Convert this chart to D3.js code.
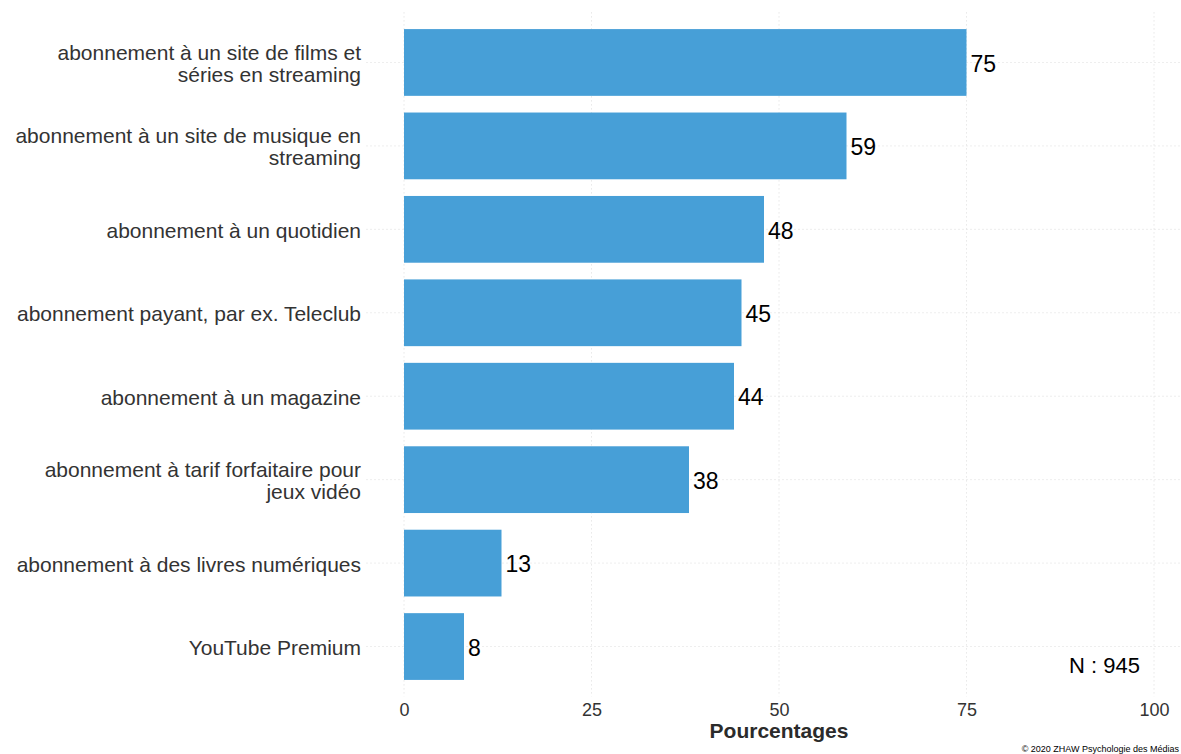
<!DOCTYPE html>
<html>
<head>
<meta charset="utf-8">
<script src="https://cdn.jsdelivr.net/npm/d3@7/dist/d3.min.js"></script>
<style>
  html, body { margin: 0; padding: 0; background: #ffffff; }
  svg { display: block; font-family: "Liberation Sans", Arial, sans-serif; }
</style>
</head>
<body>
<svg id="chart" width="1181" height="754"></svg>
<script>
// Subscription categories (top to bottom) with their share in percent
const categories = [
  ["abonnement à un site de films et", "séries en streaming"],
  ["abonnement à un site de musique en", "streaming"],
  ["abonnement à un quotidien"],
  ["abonnement payant, par ex. Teleclub"],
  ["abonnement à un magazine"],
  ["abonnement à tarif forfaitaire pour", "jeux vidéo"],
  ["abonnement à des livres numériques"],
  ["YouTube Premium"]
];
const values = [75, 59, 48, 45, 44, 38, 13, 8];
const xTicks = [0, 25, 50, 75, 100];
const xTitle = "Pourcentages";
const sampleNote = "N : 945";
const credit = "© 2020 ZHAW Psychologie des Médias";

const svg = d3.select("#chart");

const panel = { left: 366.5, right: 1191.5, top: 12.4, bottom: 696.6 };

const x = d3.scaleLinear()
  .domain([-5, 105])
  .range([panel.left, panel.right]);

const keys = categories.map((c, i) => i);
// discrete axis padded by 0.6 of a step on each side, bars 0.8 of a step
const step = (panel.bottom - panel.top) / (keys.length - 1 + 1.2);
const y = d3.scalePoint()
  .domain(keys)
  .range([panel.top + 0.6 * step, panel.bottom - 0.6 * step]);
const barH = 0.8 * step;

const grid = svg.append("g").attr("class", "grid");
grid.selectAll("line.v")
  .data(xTicks)
  .join("line")
  .attr("class", "v")
  .attr("x1", d => x(d)).attr("x2", d => x(d))
  .attr("y1", panel.top).attr("y2", panel.bottom)
  .attr("stroke", "#dcdcdc").attr("stroke-width", 1)
  .attr("stroke-dasharray", "1,3");
grid.selectAll("line.h")
  .data(keys)
  .join("line")
  .attr("class", "h")
  .attr("x1", panel.left).attr("x2", panel.right)
  .attr("y1", d => y(d)).attr("y2", d => y(d))
  .attr("stroke", "#dcdcdc").attr("stroke-width", 1)
  .attr("stroke-dasharray", "1,3");

// bars
svg.append("g")
  .selectAll("rect")
  .data(values)
  .join("rect")
  .attr("x", x(0))
  .attr("y", (d, i) => y(i) - barH / 2)
  .attr("width", d => x(d) - x(0))
  .attr("height", barH)
  .attr("fill", "#479fd7");

// value labels
svg.append("g")
  .selectAll("text")
  .data(values)
  .join("text")
  .attr("x", d => x(d) + 4)
  .attr("y", (d, i) => y(i) + 1)
  .attr("dy", "0.36em")
  .attr("font-size", 23)
  .attr("fill", "#000")
  .text(d => d);

// category labels (wrapped)
const lineH = 22;
const cat = svg.append("g")
  .selectAll("text")
  .data(categories)
  .join("text")
  .attr("text-anchor", "end")
  .attr("font-size", 21)
  .attr("fill", "#333333")
  .attr("x", 361)
  .attr("y", (d, i) => y(i) + 1 - (d.length - 1) * lineH / 2);
cat.selectAll("tspan")
  .data(d => d)
  .join("tspan")
  .attr("x", 361)
  .attr("dy", (d, j) => j === 0 ? "0.36em" : lineH)
  .text(d => d);

// x axis tick labels
const axis = d3.axisBottom(x).tickValues(xTicks).tickSize(0).tickPadding(0);
const ax = svg.append("g")
  .attr("transform", `translate(0, ${panel.bottom + 19})`)
  .call(axis);
ax.select(".domain").remove();
ax.selectAll("text")
  .attr("font-size", 18)
  .attr("font-family", "Liberation Sans, Arial, sans-serif")
  .attr("fill", "#333333")
  .attr("dy", "0");

svg.append("text")
  .attr("x", (panel.left + panel.right) / 2)
  .attr("y", 738)
  .attr("text-anchor", "middle")
  .attr("font-size", 21)
  .attr("font-weight", "bold")
  .attr("fill", "#2b2b2b")
  .text(xTitle);

svg.append("text")
  .attr("x", 1140)
  .attr("y", 673)
  .attr("text-anchor", "end")
  .attr("font-size", 22)
  .attr("fill", "#000")
  .text(sampleNote);

svg.append("text")
  .attr("x", 1179)
  .attr("y", 752)
  .attr("text-anchor", "end")
  .attr("font-size", 9)
  .attr("fill", "#000")
  .text(credit);
</script>
</body>
</html>
